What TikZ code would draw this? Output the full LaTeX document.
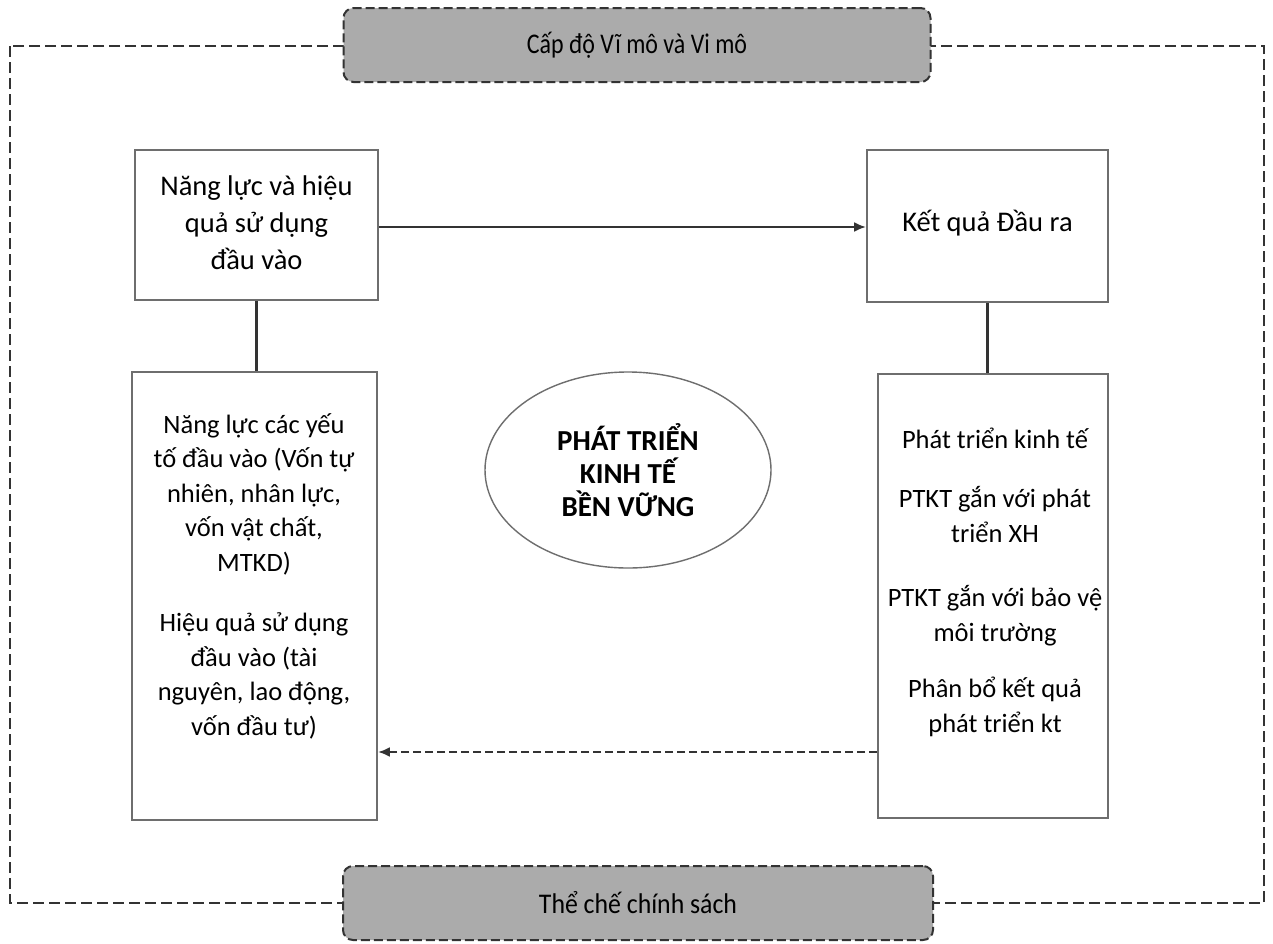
\documentclass[tikz,border=0pt]{standalone}
\usepackage{fontspec}
\setmainfont{Carlito}
\usetikzlibrary{arrows.meta,shapes.geometric}
\definecolor{bordergray}{HTML}{6E6E6E}
\definecolor{bannerfill}{HTML}{ABABAB}
\definecolor{linegray}{HTML}{333333}
\tikzset{
  box/.style={draw=bordergray, line width=1.8pt, fill=white, inner sep=0pt},
  banner/.style={draw=linegray, line width=2pt, dash pattern=on 9pt off 4pt, fill=bannerfill, rounded corners=10pt, inner sep=0pt, font=\fontsize{28.5}{32}\selectfont},
  outerframe/.style={draw=linegray, line width=2.4pt, dash pattern=on 11pt off 5pt},
  bigtext/.style={align=center, inner sep=0pt, font=\fontsize{28.5}{37}\selectfont},
  smalltext/.style={align=center, inner sep=0pt, font=\fontsize{26.5}{34.5}\selectfont},
  connector/.style={draw=linegray, line width=2.6pt},
  tip/.style={-{Latex[length=12pt,width=10pt]}},
}
\begin{document}
\begin{tikzpicture}[x=1pt,y=-1pt]
\useasboundingbox (0,0) rectangle (1273,943);
\fill[white] (0,0) rectangle (1273,943);
% outer dashed frame
\coordinate (fTL) at (10,46);
\coordinate (fBR) at (1264,903);
\draw[outerframe] (fTL) rectangle (fBR);
% banners
\node[banner, minimum width=587pt, minimum height=74pt] (top) at (637,45) {\scalebox{0.84}[1]{Cấp độ Vĩ mô và Vi mô}};
\node[banner, minimum width=590pt, minimum height=74pt] (bot) at (638,903) {\scalebox{0.905}[1]{Thể chế chính sách}};
% boxes
\node[box, minimum width=243pt, minimum height=150pt] (tl) at (256.5,225) {};
\node[bigtext] (tltext) at (256.5,223) {Năng lực và hiệu\\quả sử dụng\\đầu vào};
\node[box, minimum width=241pt, minimum height=152pt] (tr) at (987.5,226) {};
\node[bigtext] (trtext) at (987.5,223) {Kết quả Đầu ra};
\node[box, minimum width=245pt, minimum height=448pt] (bl) at (254.5,596) {};
\node[smalltext] (bltext) at (254,576) {Năng lực các yếu\\tố đầu vào (Vốn tự\\nhiên, nhân lực,\\vốn vật chất,\\MTKD)\\[26pt]Hiệu quả sử dụng\\đầu vào (tài\\nguyên, lao động,\\vốn đầu tư)};
\node[box, minimum width=230pt, minimum height=444pt] (br) at (993,596) {};
\node[smalltext] (brtext) at (995,582) {Phát triển kinh tế\\[25pt]PTKT gắn với phát\\triển XH\\[30pt]PTKT gắn với bảo vệ\\môi trường\\[22pt]Phân bổ kết quả\\phát triển kt};
% ellipse
\node[ellipse, draw=bordergray, line width=1.4pt, minimum width=286pt, minimum height=196pt, inner sep=0pt] (ell) at (628,470) {};
\node[align=center, inner sep=0pt, font=\bfseries\fontsize{29}{33}\selectfont] (elltext) at (628,470) {PHÁT TRIỂN\\KINH TẾ\\BỀN VỮNG};
% connectors
\draw[connector, tip] (tl.east |- 0,227) -- (tr.west |- 0,227);
\draw[connector] (tl.south) -- (tl.south |- bl.north);
\draw[connector] (tr.south) -- (tr.south |- br.north);
\draw[connector, tip, dash pattern=on 8pt off 4pt] (br.west |- 0,752) -- (bl.east |- 0,752);
\end{tikzpicture}
\end{document}
